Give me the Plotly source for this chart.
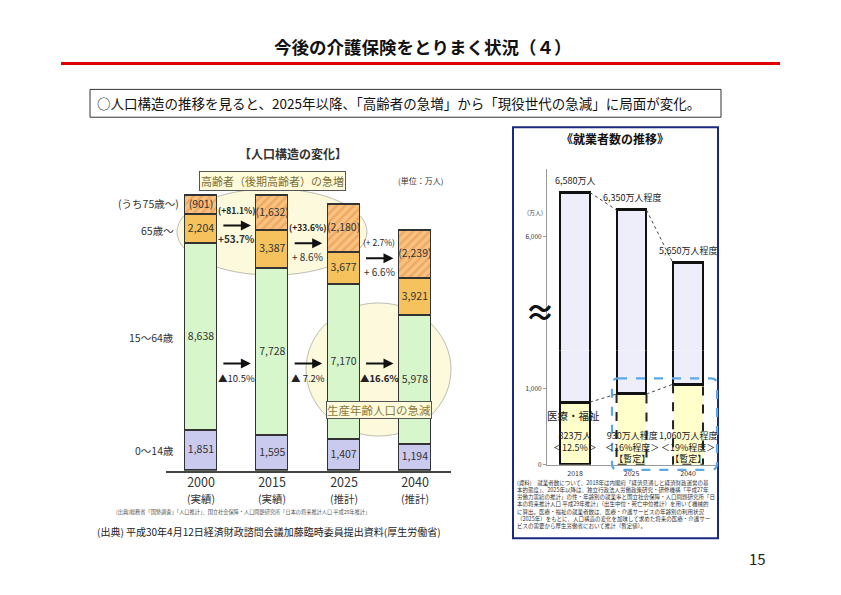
import plotly.graph_objects as go

W, H = 841, 595
FONT = "Noto Sans CJK JP"


def px(x):
    return x / W


def py(y):
    return 1 - y / H


# ---------------- data: left chart (population structure, 万人) ----------------
years = ["2000", "2015", "2025", "2040"]
year_status = ["(実績)", "(実績)", "(推計)", "(推計)"]
pop_0_14 = [1851, 1595, 1407, 1194]
pop_15_64 = [8638, 7728, 7170, 5978]
pop_65_over = [2204, 3387, 3677, 3921]
pop_75_over = [901, 1632, 2180, 2239]
row_labels = ["(うち75歳～)", "65歳～", "15～64歳", "0～14歳"]
change_75_over = ["(+81.1%)", "(+33.6%)", "(+ 2.7%)"]
change_65_over = ["+53.7%", "+ 8.6%", "+ 6.6%"]
change_15_64 = ["▲10.5%", "▲ 7.2%", "▲16.6%"]

# ---------------- data: right chart (employed persons, 万人) ----------------
emp_years = ["2018", "2025", "2040"]
emp_total = [6580, 6350, 5650]
emp_medical = [823, 930, 1060]
emp_total_labels = ["6,580万人", "6,350万人程度", "5,650万人程度"]
emp_medical_labels = ["823万人", "930万人程度", "1,060万人程度"]
emp_share_labels = ["＜12.5%＞", "＜16%程度＞", "＜19%程度＞"]
emp_status = ["", "【暫定】", "【暫定】"]
emp_ticks_low = [0, 1000]
emp_ticks_high = [6000]

# ---------------- derived ----------------
xl = list(range(len(years)))
pop_65_74 = [a - b for a, b in zip(pop_65_over, pop_75_over)]
BWL = 0.45
xr = list(range(len(emp_years)))
emp_other = [t - m for t, m in zip(emp_total, emp_medical)]
BWR = 0.53

fig = go.Figure()

edge = dict(color="#333333", width=1.5)
fig.add_trace(go.Bar(x=xl, y=pop_0_14, width=BWL, marker=dict(color="#cacaee", line=edge),
                     xaxis="x", yaxis="y", hoverinfo="skip"))
fig.add_trace(go.Bar(x=xl, y=pop_15_64, width=BWL, marker=dict(color="#d8f6cb", line=edge),
                     xaxis="x", yaxis="y", hoverinfo="skip"))
fig.add_trace(go.Bar(x=xl, y=pop_65_74, width=BWL, marker=dict(color="#f5c25e", line=edge),
                     xaxis="x", yaxis="y", hoverinfo="skip"))
fig.add_trace(go.Bar(x=xl, y=pop_75_over, width=BWL,
                     marker=dict(color="#f6b468", line=edge,
                                 pattern=dict(shape="/", fgcolor="#e98d3c", bgcolor="#f7c282",
                                              size=6, solidity=0.4)),
                     xaxis="x", yaxis="y", hoverinfo="skip"))

# segment labels (centred in each segment)
lab_x, lab_y, lab_t = [], [], []
for i in xl:
    a = pop_0_14[i]
    b = a + pop_15_64[i]
    c = b + pop_65_74[i]
    d = c + pop_75_over[i]
    lab_x += [i, i, i, i]
    lab_y += [a / 2, (a + b) / 2, (b + c) / 2, (c + d) / 2]
    lab_t += [f"{pop_0_14[i]:,}", f"{pop_15_64[i]:,}", f"{pop_65_over[i]:,}", f"({pop_75_over[i]:,})"]
fig.add_trace(go.Scatter(x=lab_x, y=lab_y, text=lab_t, mode="text",
                         textfont=dict(size=10.5, color="#333333", family=FONT),
                         xaxis="x", yaxis="y", hoverinfo="skip", cliponaxis=False))

# ---------------- right chart bars (broken axis: two stacked subplots) ----------------
for xa, ya in [("x2", "y2"), ("x3", "y3")]:
    fig.add_trace(go.Bar(x=xr, y=emp_medical, width=BWR,
                         marker=dict(color="#ffffcc", line=dict(color="#111111", width=[2.2, 0, 0])),
                         xaxis=xa, yaxis=ya, hoverinfo="skip"))
    fig.add_trace(go.Bar(x=xr, y=emp_other, width=BWR,
                         marker=dict(color="#eeeefb", line=dict(color="#111111", width=2.4)),
                         xaxis=xa, yaxis=ya, hoverinfo="skip"))

# dashed outlines for provisional medical/welfare bars
ox, oy = [], []
for i in xr[1:]:
    ox += [i - BWR / 2, i - BWR / 2, i + BWR / 2, i + BWR / 2, None]
    oy += [emp_medical[i], 0, 0, emp_medical[i], None]
fig.add_trace(go.Scatter(x=ox, y=oy, mode="lines", line=dict(color="#222222", width=2, dash="dash"),
                         xaxis="x2", yaxis="y2", hoverinfo="skip", cliponaxis=False))

# dotted connectors between bar tops
cx, cy, mx, my = [], [], [], []
for i in xr[:-1]:
    cx += [i + BWR / 2, i + 1 - BWR / 2, None]
    cy += [emp_total[i], emp_total[i + 1], None]
    mx += [i + BWR / 2, i + 1 - BWR / 2, None]
    my += [emp_medical[i], emp_medical[i + 1], None]
fig.add_trace(go.Scatter(x=cx, y=cy, mode="lines", line=dict(color="#444444", width=1, dash="dot"),
                         xaxis="x3", yaxis="y3", hoverinfo="skip"))
fig.add_trace(go.Scatter(x=mx, y=my, mode="lines", line=dict(color="#444444", width=1, dash="dot"),
                         xaxis="x2", yaxis="y2", hoverinfo="skip"))

annotations = []


def ann(text, x, y, size=10, color="#333333", xanchor="center", yanchor="middle", bold=False,
        xref="paper", yref="paper", **kw):
    if bold:
        text = f"<b>{text}</b>"
    d = dict(text=text, x=px(x) if xref == "paper" else x, y=py(y) if yref == "paper" else y,
             xref=xref, yref=yref, showarrow=False, xanchor=xanchor, yanchor=yanchor,
             font=dict(size=size, color=color, family=FONT))
    d.update(kw)
    annotations.append(d)


# page header
ann("今後の介護保険をとりまく状況（４）", 423, 47, size=17.5, color="#111111", bold=True)
ann("○人口構造の推移を見ると、2025年以降、「高齢者の急増」から「現役世代の急減」に局面が変化。",
    95, 104, size=13.5, color="#111111", xanchor="left")

# left chart texts
ann("【人口構造の変化】", 293, 155, size=12, color="#333333", bold=True)
ann("(単位：万人)", 420, 182, size=8, color="#333333")
ann("高齢者（後期高齢者）の急増", 272, 182, size=11, color="#7d6d35",
    bgcolor="#fdfbd9", bordercolor="#555555", borderwidth=1, borderpad=1)
ann("生産年齢人口の急減", 379, 412.5, size=11.5, color="#8a7a3c",
    bgcolor="#fdfbd9", bordercolor="#555555", borderwidth=1, borderpad=0)
row_y = [205, 232, 340, 454]
for t, yy in zip(row_labels, row_y):
    ann(t, 181 if t.startswith("(") else 176, yy, size=10.5, xanchor="right")

for i in xl:
    ann(f"{years[i]}<br><span style='font-size:10.5px'>{year_status[i]}</span>", i, 492,
        size=12.5, xref="x", color="#333333")

top_arrow_y = [227, 245, 260]
bold75 = [True, True, False]
bold65 = [True, False, False]
bold1564 = [False, False, True]
for i in range(3):
    ann(change_75_over[i], i + 0.5, top_arrow_y[i] - 16, size=8.5, xref="x", bold=bold75[i], color="#222222")
    ann(change_65_over[i], i + 0.5, top_arrow_y[i] + 13, size=10, xref="x", bold=bold65[i], color="#333333")
    ann(change_15_64[i], i + 0.5, 381, size=9.5, xref="x", bold=bold1564[i], color="#222222")
    for yy in (top_arrow_y[i], 366):
        annotations.append(dict(x=i + 0.5 + 0.2, y=py(yy), xref="x", yref="paper", text="",
                                showarrow=True, ax=-29, ay=0, arrowhead=2, arrowsize=1,
                                arrowwidth=2, arrowcolor="#111111"))

ann("(出典)総務省「国勢調査」「人口推計」、国立社会保障・人口問題研究所「日本の将来推計人口 平成29年推計」",
    114, 515, size=5.2, color="#555555", xanchor="left")
ann("(出典) 平成30年4月12日経済財政諮問会議加藤臨時委員提出資料(厚生労働省)",
    95, 535, size=10, color="#222222", xanchor="left")
ann("15", 757, 562, size=15, color="#222222")

# right panel texts
ann("《就業者数の推移》", 615, 139, size=12, color="#111111", bold=True)
ann("(万人)", 535, 214, size=6, color="#444444")
ann("≈", 540, 312, size=30, color="#111111", bold=True)
for i in xr:
    annotations.append(dict(text=emp_total_labels[i], x=i, y=emp_total[i], xref="x3", yref="y3",
                            showarrow=False, xanchor="center", yanchor="bottom", yshift=4,
                            font=dict(size=9, color="#222222", family=FONT)))
    lines = [emp_medical_labels[i], emp_share_labels[i]] + ([emp_status[i]] if emp_status[i] else [])
    annotations.append(dict(text="<br>".join(lines), x=i, y=py(430), xref="x2", yref="paper",
                            showarrow=False, xanchor="center", yanchor="top",
                            font=dict(size=9, color="#222222", family=FONT)))
ann("医療・福祉", 545, 418, size=10.5, color="#222222", xanchor="left")

note = ("(資料)　就業者数について、2018年は内閣府「経済見通しと経済財政運営の基<br>"
        "本的態度」、2025年以降は、独立行政法人労働政策研究・研修機構「平成27年<br>"
        "労働力需給の推計」の性・年齢別の就業率と国立社会保障・人口問題研究所「日<br>"
        "本の将来推計人口 平成29年推計」（出生中位・死亡中位推計）を用いて機械的<br>"
        "に算出。医療・福祉の就業者数は、医療・介護サービスの年齢別の利用状況<br>"
        "（2025年）をもとに、人口構造の変化を加味して求めた将来の医療・介護サー<br>"
        "ビスの需要から厚生労働省において推計（暫定値）。")
annotations.append(dict(text=note, x=px(515), y=py(480), xref="paper", yref="paper", showarrow=False,
                        xanchor="left", yanchor="top", align="left",
                        font=dict(size=5.5, color="#333333", family=FONT)))


def rounded_rect(x0, y0, x1, y1, r):
    X = lambda v: px(v)
    Y = lambda v: py(v)
    return (f"M {X(x0 + r)},{Y(y0)} L {X(x1 - r)},{Y(y0)} Q {X(x1)},{Y(y0)} {X(x1)},{Y(y0 + r)} "
            f"L {X(x1)},{Y(y1 - r)} Q {X(x1)},{Y(y1)} {X(x1 - r)},{Y(y1)} "
            f"L {X(x0 + r)},{Y(y1)} Q {X(x0)},{Y(y1)} {X(x0)},{Y(y1 - r)} "
            f"L {X(x0)},{Y(y0 + r)} Q {X(x0)},{Y(y0)} {X(x0 + r)},{Y(y0)} Z")


shapes = [
    dict(type="line", xref="paper", yref="paper", x0=px(61), x1=px(780), y0=py(64), y1=py(64),
         line=dict(color="#e00000", width=3)),
    dict(type="rect", xref="paper", yref="paper", x0=px(90), x1=px(721), y0=py(90), y1=py(118),
         line=dict(color="#333333", width=1)),
    dict(type="rect", xref="paper", yref="paper", x0=px(513), x1=px(718), y0=py(128), y1=py(542),
         line=dict(color="#1a2a80", width=2)),
    dict(type="circle", xref="paper", yref="paper", x0=px(177), x1=px(367), y0=py(190), y1=py(277),
         fillcolor="#fcf9dc", line=dict(color="#bdbdb0", width=1), layer="below"),
    dict(type="circle", xref="paper", yref="paper", x0=px(306), x1=px(451), y0=py(305), y1=py(439),
         fillcolor="#fcf9dc", line=dict(color="#bdbdb0", width=1), layer="below"),
    dict(type="path", xref="paper", yref="paper", path=rounded_rect(612, 381, 717, 473, 6),
         line=dict(color="#5aa9e6", width=2.2, dash="dash")),
]

axis_common = dict(showgrid=False, zeroline=False, fixedrange=True)
fig.update_layout(
    width=W, height=H, autosize=False,
    margin=dict(l=0, r=0, t=0, b=0),
    paper_bgcolor="white", plot_bgcolor="rgba(0,0,0,0)",
    showlegend=False, barmode="stack", bargap=0,
    font=dict(family=FONT, color="#333333"),
    xaxis=dict(domain=[px(166), px(451)], range=[-0.49, 3.506], showline=True, linecolor="#444444",
               linewidth=1.5, showticklabels=False, ticks="", anchor="y", **axis_common),
    yaxis=dict(domain=[py(474), py(174)], range=[0, 13749], visible=False, anchor="x", **axis_common),
    xaxis2=dict(domain=[px(547), px(717)], range=[-0.496, 2.513], tickvals=xr, ticktext=emp_years,
                tickfont=dict(size=7, color="#333333"), showline=True, linecolor="#999999", linewidth=1,
                ticks="", ticklabelstandoff=2, anchor="y2", **axis_common),
    yaxis2=dict(domain=[py(468), py(353)], range=[0, 1500], tickvals=emp_ticks_low,
                ticktext=[f"{v:,}" for v in emp_ticks_low], tickfont=dict(size=6.5, color="#333333"),
                showline=True, linecolor="#999999", linewidth=1, ticks="outside", ticklen=3,
                tickcolor="#999999", anchor="x2", **axis_common),
    xaxis3=dict(domain=[px(547), px(717)], range=[-0.496, 2.513], matches="x2", visible=False,
                anchor="y3", **axis_common),
    yaxis3=dict(domain=[py(353), py(170)], range=[4500, 6892], tickvals=emp_ticks_high,
                ticktext=[f"{v:,}" for v in emp_ticks_high], tickfont=dict(size=6.5, color="#333333"),
                showline=True, linecolor="#999999", linewidth=1, ticks="outside", ticklen=3,
                tickcolor="#999999", anchor="x3", **axis_common),
    annotations=annotations,
    shapes=shapes,
)

fig.write_html("out.html")
